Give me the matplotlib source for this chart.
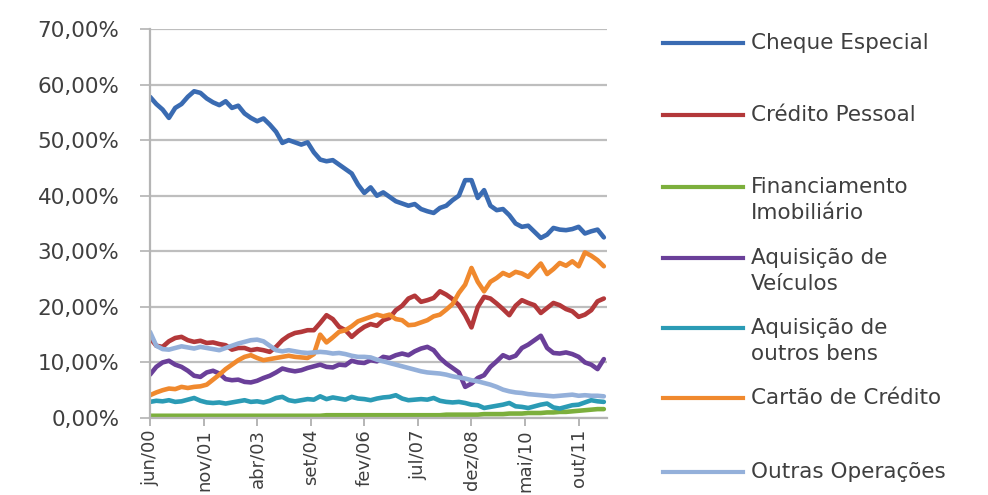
import matplotlib
matplotlib.use("Agg")
import matplotlib.pyplot as plt
from matplotlib.lines import Line2D
from matplotlib.ticker import FuncFormatter, FixedLocator

# month index (0 = jun/00), sampled every two months
months = list(range(0, 146, 2))

tick_months = [0, 17, 34, 51, 68, 85, 102, 119, 136]
tick_labels = ["jun/00", "nov/01", "abr/03", "set/04", "fev/06", "jul/07", "dez/08", "mai/10", "out/11"]

series_names = ["Cheque Especial", "Crédito Pessoal", "Financiamento\nImobiliário",
                "Aquisição de\nVeículos", "Aquisição de\noutros bens",
                "Cartão de Crédito", "Outras Operações"]

cheque_especial = [57.8, 56.5, 55.5, 54.0, 55.8, 56.5, 57.8, 58.8, 58.5, 57.5,
                   56.8, 56.3, 57.0, 55.8, 56.2, 54.8, 54.0, 53.4, 53.9, 52.8,
                   51.5, 49.5, 50.0, 49.6, 49.2, 49.6, 47.8, 46.5, 46.2, 46.4,
                   45.6, 44.8, 44.0, 42.0, 40.5, 41.5, 40.0, 40.6, 39.8, 39.0,
                   38.6, 38.2, 38.5, 37.6, 37.2, 36.9, 37.8, 38.2, 39.2, 40.0,
                   42.8, 42.8, 39.6, 41.0, 38.2, 37.4, 37.6, 36.5, 35.0, 34.4,
                   34.6, 33.5, 32.4, 33.0, 34.2, 33.9, 33.8, 34.0, 34.4, 33.2,
                   33.6, 33.9, 32.5]

credito_pessoal = [14.4, 13.0, 12.8, 13.8, 14.4, 14.6, 14.0, 13.7, 13.9, 13.5,
                   13.6, 13.3, 13.1, 12.3, 12.6, 12.6, 12.2, 12.4, 12.2, 11.9,
                   12.8, 14.0, 14.8, 15.3, 15.5, 15.8, 15.8, 17.1, 18.5, 17.8,
                   16.4, 15.8, 14.6, 15.6, 16.4, 16.9, 16.6, 17.6, 18.0, 19.4,
                   20.2, 21.5, 22.0, 20.9, 21.2, 21.6, 22.8, 22.2, 21.4, 20.3,
                   18.5, 16.3, 20.0, 21.8, 21.5, 20.6, 19.6, 18.5, 20.2, 21.2,
                   20.7, 20.3, 18.9, 19.8, 20.7, 20.3, 19.6, 19.2, 18.2, 18.6,
                   19.4, 21.0, 21.5]

financiamento_imobiliario = [0.4, 0.4, 0.4, 0.4, 0.4, 0.4, 0.4, 0.4, 0.4, 0.4,
                             0.4, 0.4, 0.4, 0.4, 0.4, 0.4, 0.4, 0.4, 0.4, 0.4,
                             0.4, 0.4, 0.4, 0.4, 0.4, 0.4, 0.4, 0.4, 0.5, 0.5,
                             0.5, 0.5, 0.5, 0.5, 0.5, 0.5, 0.5, 0.5, 0.5, 0.5,
                             0.5, 0.5, 0.5, 0.5, 0.5, 0.5, 0.5, 0.6, 0.6, 0.6,
                             0.6, 0.6, 0.6, 0.7, 0.7, 0.7, 0.7, 0.8, 0.8, 0.8,
                             0.9, 0.9, 0.9, 1.0, 1.0, 1.1, 1.1, 1.2, 1.3, 1.4,
                             1.5, 1.6, 1.6]

aquisicao_veiculos = [7.8, 9.2, 10.0, 10.3, 9.6, 9.2, 8.5, 7.6, 7.4, 8.2,
                      8.5, 8.0, 7.0, 6.8, 6.9, 6.5, 6.4, 6.7, 7.2, 7.6,
                      8.2, 8.9, 8.6, 8.4, 8.6, 9.0, 9.3, 9.6, 9.2, 9.1,
                      9.6, 9.5, 10.3, 10.0, 9.9, 10.4, 10.2, 11.0, 10.8, 11.3,
                      11.6, 11.3, 12.0, 12.5, 12.8, 12.2, 10.8, 9.8, 9.0, 8.2,
                      5.6, 6.2, 7.2, 7.7, 9.2, 10.2, 11.3, 10.8, 11.2, 12.6,
                      13.2, 14.0, 14.8, 12.6, 11.7, 11.6, 11.8, 11.5, 11.0, 10.0,
                      9.6, 8.8, 10.6]

aquisicao_outros_bens = [2.9, 3.1, 3.0, 3.2, 2.9, 3.0, 3.3, 3.6, 3.1, 2.8,
                         2.7, 2.8, 2.6, 2.8, 3.0, 3.2, 2.9, 3.0, 2.8, 3.1,
                         3.6, 3.8, 3.2, 3.0, 3.2, 3.4, 3.3, 3.9, 3.4, 3.7,
                         3.5, 3.3, 3.8, 3.5, 3.4, 3.2, 3.5, 3.7, 3.8, 4.1,
                         3.5, 3.2, 3.3, 3.4, 3.3, 3.6, 3.1, 2.9, 2.8, 2.9,
                         2.7, 2.4, 2.3, 1.8, 2.0, 2.2, 2.4, 2.7, 2.1, 2.0,
                         1.8, 2.1, 2.4, 2.6, 1.9, 1.7, 2.0, 2.3, 2.4, 2.8,
                         3.2, 3.0, 2.9]

cartao_credito = [4.1, 4.6, 5.0, 5.3, 5.2, 5.6, 5.4, 5.6, 5.7, 6.0,
                  6.9, 7.8, 8.8, 9.6, 10.4, 11.0, 11.3, 10.8, 10.4, 10.6,
                  10.8, 11.0, 11.2, 11.0, 10.9, 10.8, 11.5, 15.0, 13.6, 14.5,
                  15.5, 15.8, 16.5, 17.4, 17.8, 18.2, 18.6, 18.3, 18.6, 17.8,
                  17.6, 16.7, 16.8, 17.2, 17.6, 18.3, 18.6, 19.5, 20.5, 22.5,
                  24.0, 27.0, 24.5, 22.8, 24.5, 25.2, 26.1, 25.6, 26.3, 26.0,
                  25.4, 26.6, 27.8, 25.9, 26.8, 27.9, 27.4, 28.2, 27.3, 29.8,
                  29.2, 28.4, 27.3]

outras_operacoes = [15.5, 13.0, 12.4, 12.3, 12.6, 12.9, 12.7, 12.5, 12.8, 12.6,
                    12.4, 12.2, 12.6, 13.0, 13.4, 13.7, 14.0, 14.1, 13.8, 13.0,
                    12.2, 12.0, 12.2, 12.0, 11.8, 11.7, 11.8, 11.9, 11.8, 11.6,
                    11.7, 11.5, 11.2, 11.0, 11.0, 10.9, 10.5, 10.2, 9.9, 9.6,
                    9.3, 9.0, 8.7, 8.4, 8.2, 8.1, 8.0, 7.8, 7.5, 7.3,
                    7.1, 6.8, 6.6, 6.3, 6.0, 5.6, 5.1, 4.8, 4.6, 4.5,
                    4.3, 4.2, 4.1, 4.0, 3.9, 4.0, 4.1, 4.2, 4.0, 4.1,
                    4.0, 4.0, 3.9]

all_series = [cheque_especial, credito_pessoal, financiamento_imobiliario,
              aquisicao_veiculos, aquisicao_outros_bens, cartao_credito, outras_operacoes]
colors = ["#3A6BB2", "#B3383A", "#7CAF3C", "#6A3F99", "#2B9BB5", "#F0892E", "#94B0DA"]

W, H = 988, 495
fig = plt.figure(figsize=(W / 100, H / 100), dpi=100)
ax = fig.add_axes([150 / W, 1 - 418 / H, (607 - 150) / W, (418 - 29) / H])

font = "DejaVu Sans"
text_color = "#3F3F3F"
for vals, c in zip(all_series, colors):
    ax.plot(months, vals, color=c, lw=3.3, solid_joinstyle="round", solid_capstyle="round")

ax.set_xlim(0, 145)
ax.set_ylim(0, 70)
ax.yaxis.set_major_locator(FixedLocator([0, 10, 20, 30, 40, 50, 60, 70]))
ax.yaxis.set_major_formatter(FuncFormatter(lambda v, p: f"{v:.2f}".replace(".", ",") + "%"))
ax.set_xticks(tick_months)
ax.set_xticklabels(tick_labels, rotation=90)
ax.grid(axis="y", color="#BEBEBE", lw=1.6)
ax.set_axisbelow(True)
for s in ["top", "right"]:
    ax.spines[s].set_visible(False)
for s in ["left", "bottom"]:
    ax.spines[s].set_color("#B5B5B5")
    ax.spines[s].set_linewidth(1.6)
ax.tick_params(axis="y", length=7, width=1.4, color="#BEBEBE", labelsize=15.5,
               labelcolor=text_color, pad=15)
ax.tick_params(axis="x", length=6, width=1.4, color="#B5B5B5", labelsize=13,
               labelcolor=text_color, pad=2)
for lab in ax.get_xticklabels() + ax.get_yticklabels():
    lab.set_fontfamily(font)

# legend drawn on the right
leg_y = [43, 115, 187, 258, 328, 398, 472]
for name, c, y in zip(series_names, colors, leg_y):
    yf = 1 - y / H
    fig.add_artist(Line2D([663 / W, 743 / W], [yf, yf], color=c, lw=3.0))
    for i, line in enumerate(name.split("\n")):
        fig.text(751 / W, 1 - (y + 26 * i) / H, line, ha="left", va="center",
                 fontsize=15.5, color=text_color, family=font)

fig.savefig("out.png", dpi=100)
